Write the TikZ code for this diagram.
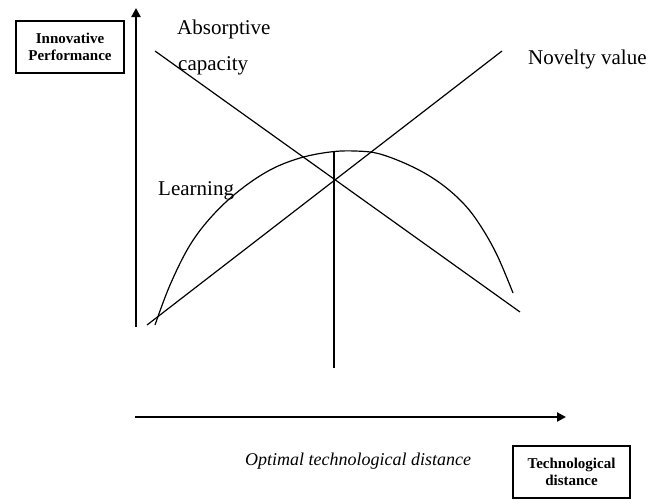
\documentclass[tikz,border=0pt]{standalone}
\usepackage{fontspec}
\setmainfont{Liberation Serif}
\usetikzlibrary{arrows.meta}
\begin{document}
\begin{tikzpicture}[x=1pt,y=-1pt,
  axis/.style={line width=2.8pt,-{Triangle[length=9pt,width=9pt]}},
  curve/.style={line width=1.2pt},
  lbl/.style={inner sep=0pt,anchor=base west,font=\fontsize{21}{25}\selectfont},
  boxlbl/.style={draw,line width=1.1pt,align=center,inner sep=0pt,font=\fontsize{15}{17}\selectfont\bfseries}]
\useasboundingbox (0,0) rectangle (660,499);
% axes
\coordinate (yb) at (136,327);
\coordinate (yt) at (136,8);
\coordinate (xl) at (135,417);
\coordinate (xr) at (566,417);
\draw[axis] (yb) -- (yt);
\draw[axis] (xl) -- (xr);
% boxes
\node[boxlbl,minimum width=108pt,minimum height=52pt] (ip) at (70,47) {Innovative\\Performance};
\node[boxlbl,minimum width=117pt,minimum height=52pt] (td) at (571.5,472) {Technological\\distance};
% lines
\coordinate (a1) at (155,51);
\coordinate (a2) at (520,312);
\coordinate (n1) at (147,325);
\coordinate (n2) at (502,51);
\coordinate (v1) at (334,152);
\coordinate (v2) at (334,368);
\draw[curve] (a1) -- (a2);
\draw[curve] (n1) -- (n2);
\draw[curve] (v1) -- (v2);
\draw[curve] plot[smooth,tension=0.6] coordinates {(155,325) (170,285) (190,245) (213,215) (240,190) (270,170) (300,158) (330,152) (355,151) (380,154) (413,167) (440,183) (463,203) (480,225) (497,255) (513,293)};
% labels
\node[lbl] (abs) at (177,34) {Absorptive};
\node[lbl] (cap) at (178,70) {capacity};
\node[lbl] (lea) at (158,195) {Learning};
\node[lbl] (nov) at (528,64) {Novelty value};
\node[inner sep=0pt,anchor=base west,font=\fontsize{18}{22}\selectfont\itshape] (opt) at (245,465) {Optimal technological distance};
\end{tikzpicture}
\end{document}
